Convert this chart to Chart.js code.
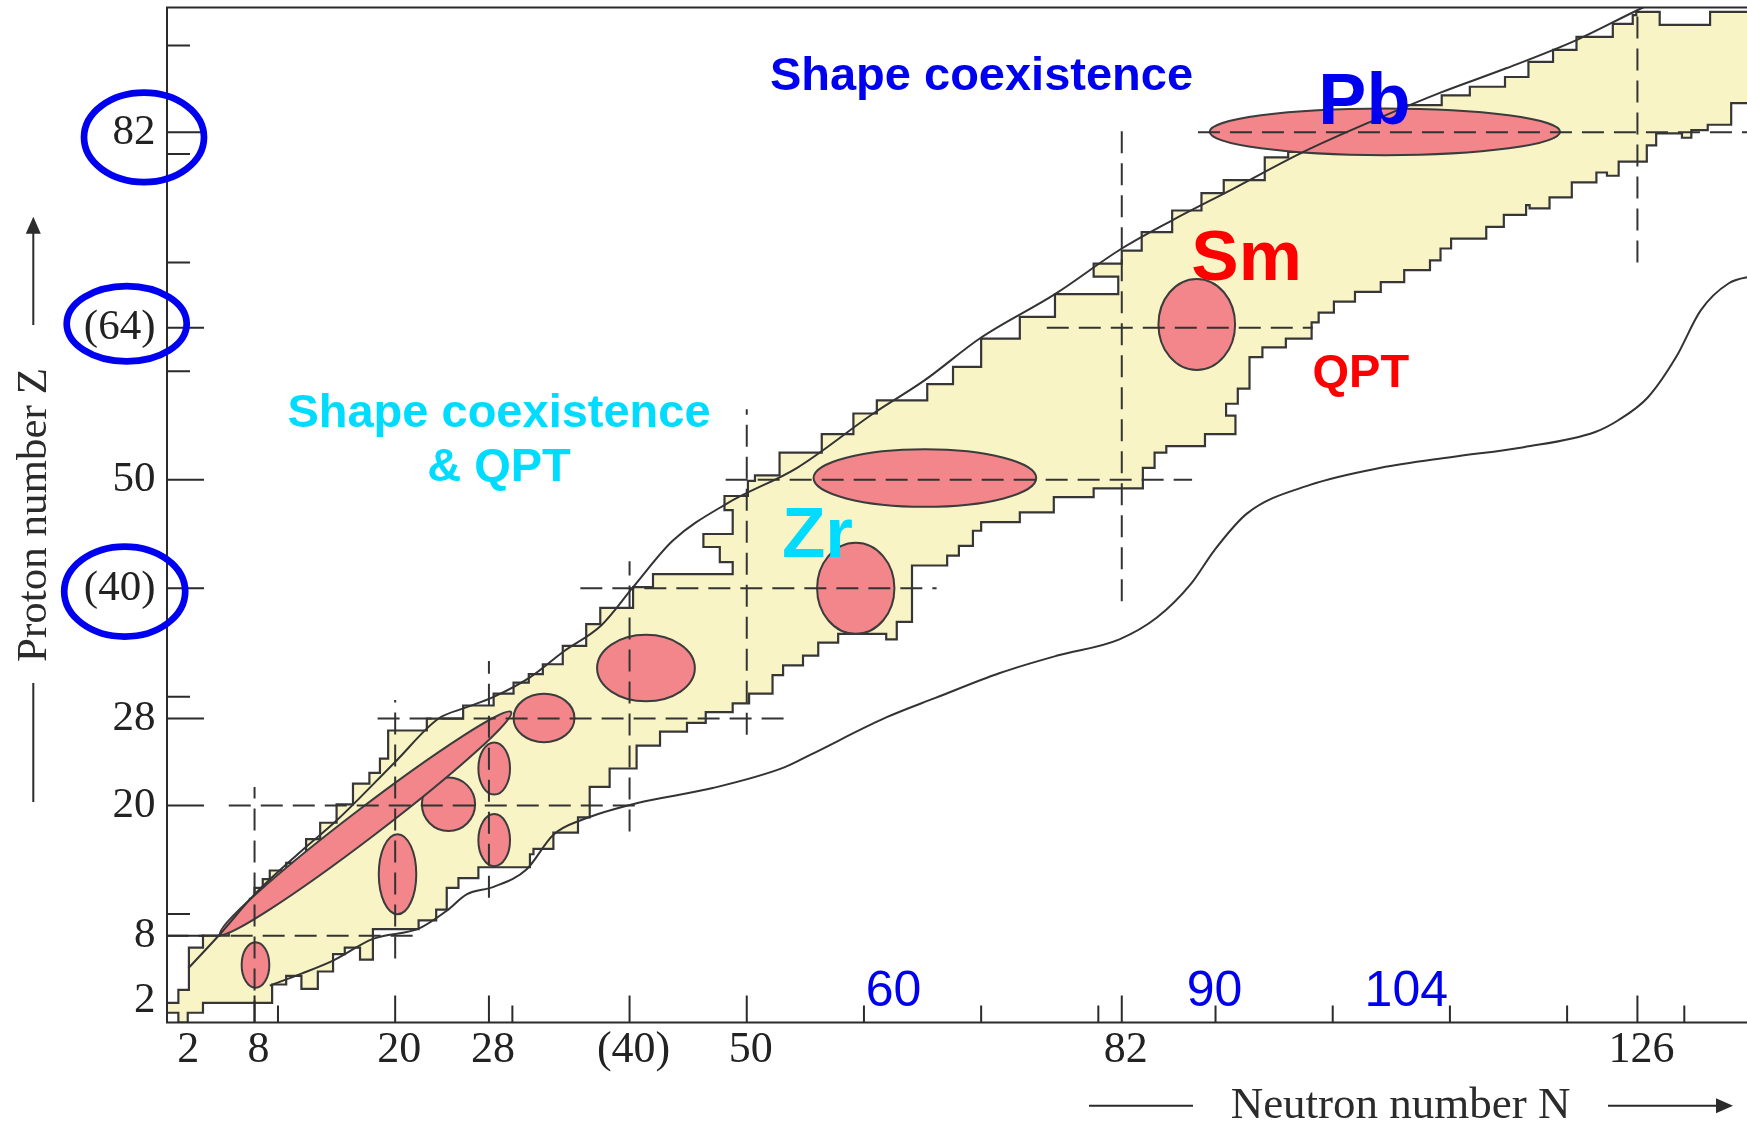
<!DOCTYPE html>
<html>
<head>
<meta charset="utf-8">
<title>Chart of nuclides: shape coexistence and QPT regions</title>
<script src="https://cdn.jsdelivr.net/npm/chart.js@4.4.1/dist/chart.umd.min.js"></script>
<style>
  html, body { margin: 0; padding: 0; background: #ffffff; }
  canvas { display: block; }
</style>
</head>
<body>
<canvas id="chart" width="1747" height="1122" style="width:1747px;height:1122px"></canvas>
<script>
// ---------------------------------------------------------------------------
// Data (N = neutron number, Z = proton number)
// ---------------------------------------------------------------------------

// Axis tick values and their printed labels
const xTickValues = [2, 8, 20, 28, 40, 50, 82, 126];
const xTickText   = ['2', '8', '20', '28', '(40)', '50', '82', '126'];
const yTickValues = [2, 8, 20, 28, 40, 50, 64, 82];
const yTickText   = ['2', '8', '20', '28', '(40)', '50', '(64)', '82'];
const xMajorMarks = [8, 20, 28, 40, 50, 82, 126];
const xMinorMarks = [10, 30, 60, 70, 80, 90, 100, 110, 120, 130];
const yMajorMarks = [8, 20, 28, 40, 50, 64, 82];
const yMinorMarks = [10, 30, 60, 70, 80, 90];

// Edges of the known-nuclei region as staircases:
// start N, start Z, then pairs (N, Z): run across to N, then step to Z.
const protonEdge = [
  -1, 1.8,   1.5, 3.0,   2.4, 6.9,   3.6, 8.0,   5.8, 9.0,   6.8, 10.4,
  7.6, 11.4, 8.0, 12.4,  8.7, 13.2,  9.3, 14.0,  10.7, 14.7, 12.4, 16.9,
  13.6, 18.4, 15.0, 20.1, 16.4, 22.0, 17.8, 23.0, 18.7, 24.3, 19.4, 26.9,
  22.7, 28.0, 25.8, 29.2, 28.4, 30.3, 30.1, 31.3, 31.4, 32.1, 32.6, 33.0,
  34.3, 34.7, 36.3, 36.7, 37.5, 38.2, 40.3, 40.1, 42.0, 41.3, 48.8, 42.4,
  47.7, 43.8, 46.3, 45.0, 48.8, 47.2, 48.1, 48.5, 50.1, 49.9, 50.7, 50.4,
  52.8, 52.5, 56.4, 54.2, 59.1, 56.1, 61.1, 57.3, 65.4, 58.8, 67.6, 60.4,
  70.0, 63.0, 73.3, 65.0, 76.3, 67.1, 81.7, 68.7, 79.6, 69.9, 82.0, 71.1,
  83.7, 72.8, 86.3, 74.8, 88.8, 76.4, 90.7, 77.6, 94.2, 79.7, 96.2, 80.2,
  99.5, 81.5, 103.0, 83.0, 106.3, 84.5, 109.3, 85.4, 111.7, 86.2, 114.7, 87.1,
  116.7, 88.5, 118.8, 89.6, 120.8, 90.8, 123.9, 92.0, 125.6, 92.8, 125.9, 93.1,
  127.9, 91.9, 132.2, 93.1, 140, 93.1
];
const neutronEdge = [
  -1, 0.9,   1.5, 0.0,   2.3, 0.9,   3.6, 1.8,   9.5, 3.5,   10.7, 4.3,
  12.0, 3.1, 13.4, 4.7,  14.7, 6.3,  15.7, 6.9,  17.0, 5.8,  18.1, 8.6,
  22.0, 9.4, 23.5, 10.4, 24.4, 12.4, 25.4, 13.3, 27.1, 14.3, 31.5, 15.5,
  31.8, 16.0, 33.5, 17.5, 35.6, 18.9, 36.6, 21.7, 38.3, 23.4, 40.6, 25.5,
  42.6, 26.8, 44.9, 27.6, 46.5, 28.6, 48.8, 29.4, 50.2, 30.3, 52.2, 32.0,
  53.1, 32.9, 54.8, 33.8, 56.1, 35.0, 57.8, 35.8, 61.9, 35.3, 62.8, 36.9,
  64.1, 42.1, 67.1, 43.0, 68.1, 43.9, 69.3, 45.3, 70.0, 46.1, 73.3, 47.0,
  76.2, 48.4, 79.6, 49.2, 83.8, 51.1, 84.8, 52.5, 85.8, 53.1, 89.1, 54.2,
  91.7, 55.9, 90.9, 57.0, 91.9, 58.4, 92.9, 61.3, 94.0, 62.2, 96.0, 63.0,
  98.2, 64.5, 98.8, 65.4, 100.1, 66.4, 101.9, 67.3, 104.1, 68.2, 106.1, 69.3,
  108.3, 70.2, 109.2, 71.3, 110.1, 72.2, 113.1, 73.3, 114.6, 74.4, 116.5, 75.3,
  116.8, 75.0, 118.5, 76.0, 120.4, 77.4, 122.5, 78.3, 123.4, 78.0, 124.4, 79.3,
  126.8, 80.8, 127.6, 81.9, 129.8, 81.5, 130.6, 82.2, 132.0, 82.7, 134.0, 84.7,
  140, 84.7
];

// Drip lines [N, Z]
const protonDrip = [
  [2.35, 5.0], [5.1, 8.2], [8.0, 11.8], [12.0, 15.8], [15.0, 18.6], [20.0, 24.0],
  [23.7, 28.0], [26.0, 29.0], [28.4, 30.0], [31.5, 31.8], [34.4, 34.2], [37.6, 36.6],
  [40.3, 40.1], [43.7, 44.4], [48.3, 47.8], [54.3, 51.1], [60.8, 56.1], [65.1, 59.1],
  [70.0, 63.1], [76.3, 67.1], [82.0, 71.3], [86.3, 73.9], [91.5, 76.8], [97.5, 80.2],
  [103.5, 83.1], [109.3, 85.7], [114.8, 87.9], [120.8, 90.5], [125.9, 93.2], [127.5, 94.0]
];
const neutronDrip = [
  [9.3, 3.4], [12.0, 4.5], [14.7, 5.7], [18.1, 7.7], [22.1, 8.7], [24.4, 10.3],
  [26.1, 11.8], [28.4, 12.5], [31.2, 14.1], [33.5, 17.3], [36.0, 18.7], [40.6, 20.2],
  [47.1, 21.6], [53.2, 23.5], [55.5, 24.7], [61.9, 28.1], [66.1, 29.9], [71.6, 32.2],
  [76.5, 33.8], [81.8, 35.3], [85.0, 37.3], [87.9, 40.4], [89.9, 43.5], [92.7, 46.9],
  [98.0, 49.5], [104.1, 51.1], [110.2, 52.1], [116.3, 53.0], [122.4, 54.4], [124.4, 55.5],
  [126.9, 57.6], [129.3, 61.3], [131.4, 65.6], [133.8, 68.1], [136.0, 68.8]
];

// Shell closures drawn as dashed guides, with their extent along the other axis
const magicZ    = [8, 20, 28, 40, 50, 64, 82];
const zLineFrom = [0.5, 5.8, 18.5, 35.8, 48.2, 75.6, 88.5];
const zLineTo   = [22.1, 40.5, 53.5, 66.2, 88.0, 98.3, 136];
const magicN    = [8, 20, 28, 40, 50, 82, 126];
const nLineFrom = [0, 5.9, 11.5, 17.6, 26.5, 38.8, 70.0];
const nLineTo   = [21.7, 29.7, 33.3, 42.5, 56.5, 82.9, 94];

// Shape-coexistence / QPT regions: [centre N, centre Z, half-width in N, half-height in Z]
const qptRegions = [
  [104.45, 82.05, 14.95, 2.15],
  [88.4, 64.3, 3.27, 4.2],
  [65.2, 50.15, 9.5, 2.65],
  [59.3, 40.0, 3.3, 4.2],
  [41.4, 32.65, 4.17, 3.06],
  [32.7, 28.05, 2.6, 2.23],
  [28.45, 23.4, 1.35, 2.4],
  [28.45, 16.8, 1.35, 2.4],
  [24.55, 20.1, 2.27, 2.46],
  [20.2, 13.66, 1.6, 3.69],
  [8.08, 5.3, 1.18, 2.1]
];
// Elongated band of light nuclei along N = Z: its two tips [N, Z]
const lightBand = [[5.07, 8.13], [29.9, 28.6]];

// Proton numbers whose axis labels are ringed
const circledZ = [82, 64, 40];

// ---------------------------------------------------------------------------
// Styling
// ---------------------------------------------------------------------------
const YELLOW = '#f8f4c6';
const PINK = '#f2868b';
const INK = '#2b2b2b';
const BLUE = '#0000f0';
const RED = '#ff0000';
const CYAN = '#00dcff';
const SERIF = "'Liberation Serif', 'DejaVu Serif', serif";
const SANS = "'Liberation Sans', Arial, 'DejaVu Sans', sans-serif";

function stairCorners(list) {
  const pts = [{ x: list[0], y: list[1] }];
  for (let i = 2; i < list.length; i += 2) {
    const prevZ = pts[pts.length - 1].y;
    pts.push({ x: list[i], y: prevZ });
    pts.push({ x: list[i], y: list[i + 1] });
  }
  return pts;
}

const regionOutline = stairCorners(protonEdge).concat(stairCorners(neutronEdge).reverse());

const datasets = [];
datasets.push({
  label: 'known nuclei',
  data: regionOutline,
  fill: 'shape',
  backgroundColor: YELLOW,
  borderColor: '#363636',
  borderWidth: 2.2,
  tension: 0,
  order: 3
});
magicZ.forEach((z, i) => {
  datasets.push({
    label: 'Z = ' + z,
    data: [{ x: zLineFrom[i], y: z }, { x: zLineTo[i], y: z }],
    borderColor: '#333333', borderWidth: 2, borderDash: [22, 10],
    fill: false, tension: 0, order: 2
  });
});
magicN.forEach((n, i) => {
  datasets.push({
    label: 'N = ' + n,
    data: [{ x: n, y: nLineFrom[i] }, { x: n, y: nLineTo[i] }],
    borderColor: '#333333', borderWidth: 2, borderDash: [22, 10],
    fill: false, tension: 0, order: 2
  });
});
[protonDrip, neutronDrip].forEach((line, i) => {
  datasets.push({
    label: i === 0 ? 'proton drip line' : 'neutron drip line',
    data: line.map(([n, z]) => ({ x: n, y: z })),
    borderColor: '#333333', borderWidth: 2,
    cubicInterpolationMode: 'monotone',
    fill: false, order: 1
  });
});

// ---------------------------------------------------------------------------
// Drawing helpers for the plugin
// ---------------------------------------------------------------------------
function drawQptRegions(chart) {
  const { ctx, scales: { x, y } } = chart;
  ctx.save();
  ctx.fillStyle = PINK;
  ctx.strokeStyle = '#3c3c3c';
  ctx.lineWidth = 2;
  for (const [n, z, dn, dz] of qptRegions) {
    const cx = x.getPixelForValue(n);
    const cy = y.getPixelForValue(z);
    const rx = Math.abs(x.getPixelForValue(n + dn) - cx);
    const ry = Math.abs(y.getPixelForValue(z + dz) - cy);
    ctx.beginPath();
    ctx.ellipse(cx, cy, rx, ry, 0, 0, Math.PI * 2);
    ctx.fill();
    ctx.stroke();
  }
  const [a, b] = lightBand;
  const ax = x.getPixelForValue(a[0]), ay = y.getPixelForValue(a[1]);
  const bx = x.getPixelForValue(b[0]), by = y.getPixelForValue(b[1]);
  const half = Math.hypot(bx - ax, by - ay) / 2;
  ctx.beginPath();
  ctx.ellipse((ax + bx) / 2, (ay + by) / 2, half, half * 0.08, Math.atan2(by - ay, bx - ax), 0, Math.PI * 2);
  ctx.fill();
  ctx.stroke();
  ctx.restore();
}

function drawFrameAndTicks(chart) {
  const { ctx, chartArea: a, scales: { x, y } } = chart;
  ctx.save();
  ctx.strokeStyle = INK;
  ctx.lineWidth = 2;
  ctx.beginPath();
  ctx.moveTo(chart.width, a.top); ctx.lineTo(a.left, a.top);
  ctx.lineTo(a.left, a.bottom); ctx.lineTo(chart.width, a.bottom);
  ctx.stroke();
  ctx.beginPath();
  xMajorMarks.forEach(n => { const p = x.getPixelForValue(n); ctx.moveTo(p, a.bottom); ctx.lineTo(p, a.bottom - 27); });
  xMinorMarks.forEach(n => { const p = x.getPixelForValue(n); ctx.moveTo(p, a.bottom); ctx.lineTo(p, a.bottom - 17); });
  yMajorMarks.forEach(z => { const p = y.getPixelForValue(z); ctx.moveTo(a.left, p); ctx.lineTo(a.left + 37, p); });
  yMinorMarks.forEach(z => { const p = y.getPixelForValue(z); ctx.moveTo(a.left, p); ctx.lineTo(a.left + 23, p); });
  ctx.stroke();
  ctx.restore();
}

function arrowHead(ctx, tipX, tipY, dirX, dirY) {
  const len = 17, w = 7.5;
  const px = -dirY, py = dirX;
  ctx.beginPath();
  ctx.moveTo(tipX, tipY);
  ctx.lineTo(tipX - dirX * len + px * w, tipY - dirY * len + py * w);
  ctx.lineTo(tipX - dirX * len - px * w, tipY - dirY * len - py * w);
  ctx.closePath();
  ctx.fill();
}

function drawAnnotations(chart) {
  const { ctx, chartArea: a, scales: { x, y } } = chart;
  ctx.save();

  // Text labels placed in (N, Z) coordinates
  const notes = [
    { t: 'Shape coexistence', n: 70.03, z: 85.94, size: 47, weight: 'bold', color: BLUE },
    { t: 'Pb', n: 102.7, z: 82.74, size: 72, weight: 'bold', color: BLUE },
    { t: 'Sm', n: 92.65, z: 68.42, size: 71, weight: 'bold', color: RED },
    { t: 'QPT', n: 102.4, z: 58.52, size: 47, weight: 'bold', color: RED },
    { t: 'Shape coexistence', n: 28.86, z: 54.84, size: 47, weight: 'bold', color: CYAN },
    { t: '& QPT', n: 28.86, z: 49.92, size: 47, weight: 'bold', color: CYAN },
    { t: 'Zr', n: 56.03, z: 42.85, size: 71, weight: 'bold', color: CYAN },
    { t: '60', n: 62.53, z: 1.52, size: 50, weight: 'normal', color: BLUE },
    { t: '90', n: 89.92, z: 1.52, size: 50, weight: 'normal', color: BLUE },
    { t: '104', n: 106.28, z: 1.52, size: 50, weight: 'normal', color: BLUE }
  ];
  ctx.textAlign = 'center';
  ctx.textBaseline = 'alphabetic';
  for (const nt of notes) {
    ctx.font = nt.weight + ' ' + nt.size + 'px ' + SANS;
    ctx.fillStyle = nt.color;
    ctx.fillText(nt.t, x.getPixelForValue(nt.n), y.getPixelForValue(nt.z));
  }

  // Rings round selected proton-number labels
  const rings = [[144, 5, 60, 44.7], [126.7, -4, 60, 37.7], [124.7, 3.3, 60.5, 45]];
  ctx.strokeStyle = BLUE;
  ctx.lineWidth = 6.7;
  circledZ.forEach((z, i) => {
    const [cx, dy, rx, ry] = rings[i];
    ctx.beginPath();
    ctx.ellipse(cx, y.getPixelForValue(z) + dy, rx, ry, 0, 0, Math.PI * 2);
    ctx.stroke();
  });

  // Axis titles with arrows
  ctx.fillStyle = INK;
  ctx.strokeStyle = INK;
  ctx.lineWidth = 2;
  const midY = (a.top + a.bottom) / 2;
  ctx.save();
  ctx.translate(46, midY);
  ctx.rotate(-Math.PI / 2);
  ctx.font = '43px ' + SERIF;
  ctx.textAlign = 'center';
  ctx.fillText('Proton number Z', 0, 0);
  ctx.restore();
  ctx.beginPath();
  ctx.moveTo(33.3, 325); ctx.lineTo(33.3, 230);
  ctx.moveTo(33.3, 683); ctx.lineTo(33.3, 802);
  ctx.stroke();
  arrowHead(ctx, 33.3, 216.7, 0, -1);

  ctx.font = '45px ' + SERIF;
  ctx.textAlign = 'center';
  ctx.fillText('Neutron number N', 1400.6, 1118.3);
  ctx.beginPath();
  ctx.moveTo(1089, 1105.7); ctx.lineTo(1193, 1105.7);
  ctx.moveTo(1608, 1105.7); ctx.lineTo(1720, 1105.7);
  ctx.stroke();
  arrowHead(ctx, 1733, 1105.7, 1, 0);

  ctx.restore();
}

const decor = {
  id: 'decor',
  afterDatasetDraw(chart, args) {
    if (args.index === 0) drawQptRegions(chart);
  },
  afterDatasetsDraw(chart) {
    drawFrameAndTicks(chart);
  },
  afterDraw(chart) {
    drawAnnotations(chart);
  }
};

// Scales keep no extra label padding: the plot frame is fixed by the layout below
function noScalePadding(s) {
  s.paddingTop = 0;
  s.paddingBottom = 0;
  s.paddingLeft = 0;
  s.paddingRight = 0;
}

new Chart(document.getElementById('chart'), {
  type: 'line',
  data: { datasets },
  plugins: [decor],
  options: {
    responsive: false,
    animation: false,
    devicePixelRatio: 1,
    layout: { padding: { top: 7.5, right: 0, bottom: 0, left: 0 } },
    elements: { point: { radius: 0, hoverRadius: 0 } },
    plugins: { legend: { display: false }, tooltip: { enabled: false }, title: { display: false } },
    events: [],
    scales: {
      x: {
        type: 'linear',
        min: 0.53,
        max: 135.35,
        grid: { display: false, drawTicks: false },
        border: { display: false },
        afterBuildTicks: s => { s.ticks = xTickValues.map(v => ({ value: v })); },
        afterFit: s => { s.height = 99.5; noScalePadding(s); },
        ticks: {
          autoSkip: false, maxRotation: 0, minRotation: 0, padding: 2, labelOffset: 4,
          color: '#222222',
          font: { family: SERIF, size: 44, lineHeight: 1.2 },
          callback: v => xTickText[xTickValues.indexOf(v)]
        }
      },
      y: {
        type: 'linear',
        min: 0,
        max: 93.5,
        grid: { display: false, drawTicks: false },
        border: { display: false },
        afterBuildTicks: s => { s.ticks = yTickValues.map(v => ({ value: v })); },
        afterFit: s => { s.width = 167; noScalePadding(s); },
        ticks: {
          autoSkip: false, padding: 11.5,
          color: '#222222',
          font: { family: SERIF, size: 43, lineHeight: 1.2 },
          callback: v => yTickText[yTickValues.indexOf(v)]
        }
      }
    }
  }
});
</script>
</body>
</html>
